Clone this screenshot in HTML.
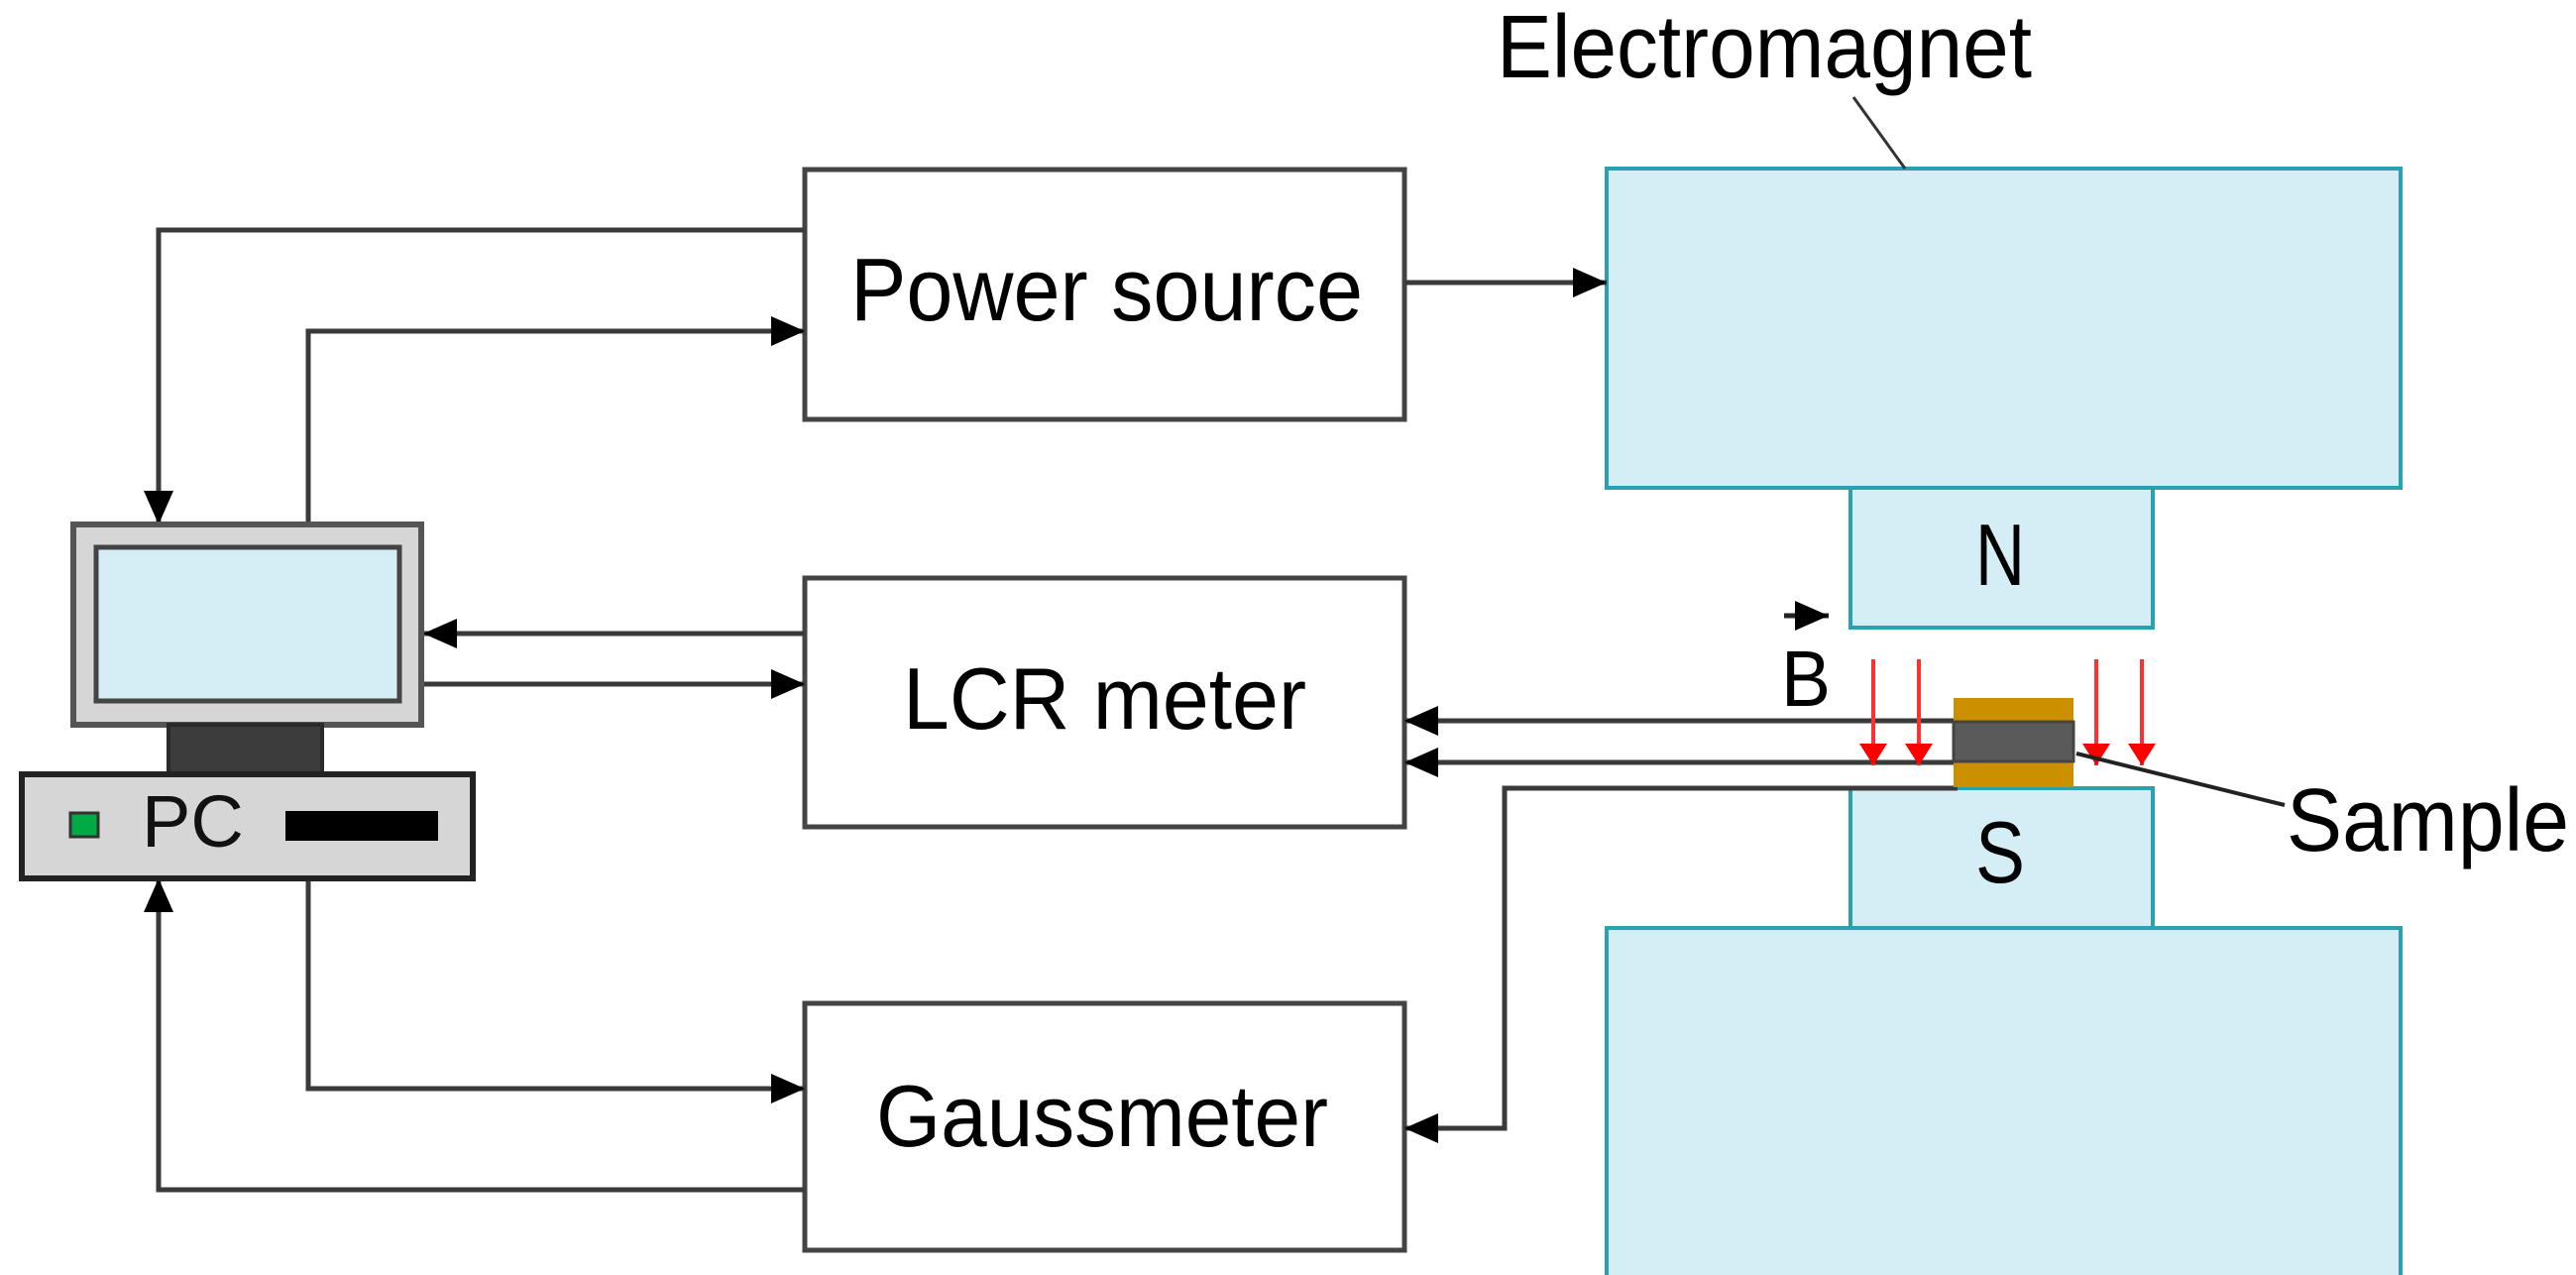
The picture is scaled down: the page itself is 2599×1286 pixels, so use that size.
<!DOCTYPE html>
<html><head><meta charset="utf-8"><style>html,body{margin:0;padding:0;background:#fff;}svg{display:block}</style></head>
<body>
<svg width="2599" height="1286" viewBox="0 0 2599 1286" xmlns="http://www.w3.org/2000/svg" font-family="Liberation Sans, sans-serif">
<defs>
<marker id="a" markerWidth="10" markerHeight="10" refX="9" refY="5" orient="auto" markerUnits="userSpaceOnUse" viewBox="0 0 10 10"><path d="M0,0 L10,5 L0,10 z" fill="#000"/></marker>
<marker id="ah" markerWidth="34" markerHeight="30" refX="34" refY="15" orient="auto" markerUnits="userSpaceOnUse"><path d="M0,0 L34,15 L0,30 z" fill="#000"/></marker>
<marker id="ar" markerWidth="22" markerHeight="44" refX="22" refY="22" orient="auto" markerUnits="userSpaceOnUse"><path d="M0,8 L22,22 L0,36 z" fill="#ff0000"/></marker>
</defs>
<!-- Electromagnet -->
<rect x="1621" y="170" width="801" height="322" fill="#d5eef5" stroke="#2aa0b0" stroke-width="4"/>
<rect x="1867" y="492" width="305" height="141" fill="#d5eef5" stroke="#2aa0b0" stroke-width="4"/>
<rect x="1867" y="795" width="305" height="141" fill="#d5eef5" stroke="#2aa0b0" stroke-width="4"/>
<rect x="1621" y="936" width="801" height="360" fill="#d5eef5" stroke="#2aa0b0" stroke-width="4"/>
<text x="2018" y="590" font-size="88" text-anchor="middle" textLength="50" lengthAdjust="spacingAndGlyphs">N</text>
<text x="2018" y="890" font-size="88" text-anchor="middle" textLength="50" lengthAdjust="spacingAndGlyphs">S</text>
<text x="1510" y="78" font-size="90" textLength="540" lengthAdjust="spacingAndGlyphs">Electromagnet</text>
<line x1="1870" y1="98" x2="1922" y2="170" stroke="#333" stroke-width="3"/>
<!-- boxes -->
<g fill="#fff" stroke="#444" stroke-width="5">
<rect x="812" y="171" width="605" height="252"/>
<rect x="812" y="583" width="605" height="251"/>
<rect x="812" y="1012" width="605" height="249"/>
</g>
<text x="858" y="323" font-size="90" textLength="517" lengthAdjust="spacingAndGlyphs">Power source</text>
<text x="911" y="735" font-size="88" textLength="407" lengthAdjust="spacingAndGlyphs">LCR meter</text>
<text x="884" y="1156" font-size="88" textLength="456" lengthAdjust="spacingAndGlyphs">Gaussmeter</text>
<!-- connectors -->
<g fill="none" stroke="#3a3a3a" stroke-width="5">
<polyline points="812,232 160,232 160,529" marker-end="url(#ah)"/>
<polyline points="311,529 311,334 812,334" marker-end="url(#ah)"/>
<line x1="1417" y1="285" x2="1621" y2="285" marker-end="url(#ah)"/>
<line x1="812" y1="639" x2="427" y2="639" marker-end="url(#ah)"/>
<line x1="427" y1="690" x2="812" y2="690" marker-end="url(#ah)"/>
<line x1="1975" y1="727" x2="1417" y2="727" marker-end="url(#ah)"/>
<line x1="1975" y1="769" x2="1417" y2="769" marker-end="url(#ah)"/>
<polyline points="1975,795 1518,795 1518,1138 1417,1138" marker-end="url(#ah)"/>
<polyline points="812,1200 160,1200 160,886" marker-end="url(#ah)"/>
<polyline points="311,886 311,1098 812,1098" marker-end="url(#ah)"/>
</g>
<!-- PC -->
<rect x="74" y="529" width="351" height="202" fill="#d6d6d6" stroke="#555" stroke-width="6"/>
<rect x="97" y="552" width="306" height="155" fill="#d5edf4" stroke="#444" stroke-width="5"/>
<rect x="170" y="731" width="155" height="50" fill="#3c3c3c" stroke="#2a2a2a" stroke-width="4"/>
<rect x="22" y="781" width="455" height="105" fill="#d6d6d6" stroke="#222" stroke-width="6"/>
<rect x="71" y="820" width="28" height="24" fill="#00aa44" stroke="#333" stroke-width="3"/>
<text x="143" y="854" font-size="74" fill="#111">PC</text>
<rect x="288" y="818" width="154" height="30" fill="#000"/>
<!-- sample -->
<rect x="1971" y="704" width="121" height="90" fill="#cc8f00"/>
<rect x="1971" y="728" width="121" height="40" fill="#5a5a5a" stroke="#444" stroke-width="3"/>
<g stroke="#ff3030" stroke-width="4">
<line x1="1890" y1="665" x2="1890" y2="772" marker-end="url(#ar)"/>
<line x1="1936" y1="665" x2="1936" y2="772" marker-end="url(#ar)"/>
<line x1="2115" y1="665" x2="2115" y2="772" marker-end="url(#ar)"/>
<line x1="2161" y1="665" x2="2161" y2="772" marker-end="url(#ar)"/>
</g>
<line x1="2095" y1="760" x2="2305" y2="812" stroke="#222" stroke-width="4"/>
<text x="2307" y="858" font-size="90" textLength="285" lengthAdjust="spacingAndGlyphs">Sample</text>
<!-- B vector -->
<line x1="1800" y1="621" x2="1845" y2="621" stroke="#222" stroke-width="5" marker-end="url(#ah)"/>
<text x="1797" y="712" font-size="80" textLength="50" lengthAdjust="spacingAndGlyphs">B</text>
</svg>
</body></html>
